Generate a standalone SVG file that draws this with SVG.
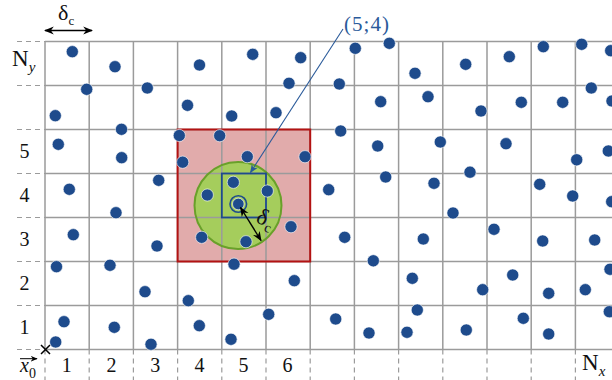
<svg xmlns="http://www.w3.org/2000/svg" width="612" height="380" viewBox="0 0 612 380">
<defs>
<style>
.g{stroke:#9b9b9b;stroke-width:1.5;fill:none}
.d{stroke:#9b9b9b;stroke-width:1.2;stroke-dasharray:5,4;fill:none}
.t{font-family:"Liberation Serif","DejaVu Serif",serif;font-size:20px;fill:#111}
.p circle{fill:#1e4b8c;stroke:#fff;stroke-width:0.6}
</style>
<marker id="ah" viewBox="0 0 10 10" refX="9" refY="5" markerWidth="7" markerHeight="7" orient="auto-start-reverse"><path d="M0,1 L10,5 L0,9 L3,5 Z" fill="#000"/></marker>
<marker id="ab" viewBox="0 0 10 10" refX="9" refY="5" markerWidth="8" markerHeight="8" orient="auto"><path d="M0,1 L10,5 L0,9 L3,5 Z" fill="#2a5a9a"/></marker>
</defs>
<rect width="612" height="380" fill="#fff"/>
<g id="neighbourhood-fill">
<rect x="177.6" y="129.5" width="132.6" height="132" fill="#e1abab"/>
<circle cx="238" cy="205.5" r="43.5" fill="#a5cd5c"/>
</g>
<g id="grid">
<path class="g" d="M45,41.5V349.5M89.2,41.5V349.5M133.4,41.5V349.5M177.6,41.5V349.5M221.8,41.5V349.5M266,41.5V349.5M310.2,41.5V349.5M354.4,41.5V349.5M398.6,41.5V349.5M442.8,41.5V349.5M487,41.5V349.5M531.2,41.5V349.5M575.4,41.5V349.5"/>
<path class="g" d="M45,41.5H612M45,85.5H612M45,129.5H612M45,173.5H612M45,217.5H612M45,261.5H612M45,305.5H612M45,349.5H612"/>
<path class="d" d="M17,41.5H45M17,85.5H45M17,129.5H45M17,173.5H45M17,217.5H45M17,261.5H45M17,305.5H45M17,349.5H45"/>
<path class="d" d="M45,349.5V380M89.2,349.5V380M133.4,349.5V380M177.6,349.5V380M221.8,349.5V380M266,349.5V380M310.2,349.5V380M354.4,349.5V380M398.6,349.5V380M442.8,349.5V380M487,349.5V380M531.2,349.5V380M575.4,349.5V380"/>
</g>
<g id="neighbourhood-outline">
<rect x="177.6" y="129.5" width="132.6" height="132" fill="none" stroke="#b31212" stroke-width="2"/>
<circle cx="238" cy="205.5" r="43.5" fill="none" stroke="#69a02a" stroke-width="2"/>
<rect id="cell-5-4" x="221.8" y="173.5" width="44.2" height="44" fill="none" stroke="#1e4b8c" stroke-width="1.8"/>
</g>
<g id="points" class="p">
<circle cx="72.3" cy="51.7" r="6.1"/><circle cx="115" cy="66.7" r="6.1"/><circle cx="86.7" cy="89.3" r="6.1"/><circle cx="147.3" cy="88" r="6.1"/><circle cx="199.5" cy="65" r="6.1"/><circle cx="252.7" cy="54.3" r="6.1"/><circle cx="300.7" cy="57.7" r="6.1"/><circle cx="355.3" cy="48.3" r="6.1"/><circle cx="389.3" cy="43.3" r="6.1"/><circle cx="415" cy="73.3" r="6.1"/><circle cx="465.7" cy="64.3" r="6.1"/><circle cx="509.3" cy="56.7" r="6.1"/><circle cx="543.3" cy="46.7" r="6.1"/><circle cx="581.7" cy="44.3" r="6.1"/><circle cx="610.7" cy="50.7" r="6.1"/><circle cx="289" cy="83.3" r="6.1"/><circle cx="339.3" cy="84" r="6.1"/>
<circle cx="55.3" cy="115.7" r="6.1"/><circle cx="121.5" cy="129.3" r="6.1"/><circle cx="187.5" cy="105.3" r="6.1"/><circle cx="231.7" cy="116" r="6.1"/><circle cx="276" cy="112.7" r="6.1"/><circle cx="380.7" cy="101.7" r="6.1"/><circle cx="428" cy="96.7" r="6.1"/><circle cx="481" cy="111" r="6.1"/><circle cx="521.3" cy="102.3" r="6.1"/><circle cx="562.7" cy="102.3" r="6.1"/><circle cx="591.3" cy="88" r="6.1"/><circle cx="612" cy="101" r="6.1"/>
<circle cx="58.3" cy="144.3" r="6.1"/><circle cx="121.7" cy="157.7" r="6.1"/><circle cx="179.3" cy="135.5" r="6.1"/><circle cx="219.7" cy="135.7" r="6.1"/><circle cx="182.7" cy="162.2" r="6.1"/><circle cx="247.3" cy="156.7" r="6.1"/><circle cx="305" cy="156.7" r="6.1"/><circle cx="340.7" cy="131" r="6.1"/><circle cx="377.7" cy="146" r="6.1"/><circle cx="440.3" cy="142" r="6.1"/><circle cx="506" cy="143.7" r="6.1"/><circle cx="576.7" cy="159.8" r="6.1"/><circle cx="608.3" cy="151" r="6.1"/><circle cx="470" cy="172.2" r="6.1"/>
<circle cx="158.7" cy="180.3" r="6.1"/><circle cx="69.3" cy="189.3" r="6.1"/><circle cx="116" cy="212.7" r="6.1"/><circle cx="233.3" cy="182.3" r="6.1"/><circle cx="207.3" cy="195" r="6.1"/><circle cx="267.3" cy="191" r="6.1"/><circle cx="328.7" cy="189.7" r="6.1"/><circle cx="385.7" cy="177" r="6.1"/><circle cx="434" cy="183.3" r="6.1"/><circle cx="453" cy="213" r="6.1"/><circle cx="539.7" cy="184.3" r="6.1"/><circle cx="572.7" cy="196" r="6.1"/><circle cx="611.7" cy="201.7" r="6.1"/>
<circle cx="73.3" cy="234.7" r="6.1"/><circle cx="157" cy="246" r="6.1"/><circle cx="201.7" cy="237.3" r="6.1"/><circle cx="246" cy="241.7" r="6.1"/><circle cx="291" cy="226.7" r="6.1"/><circle cx="344.7" cy="237.3" r="6.1"/><circle cx="423.3" cy="239" r="6.1"/><circle cx="494" cy="229.3" r="6.1"/><circle cx="542.7" cy="241" r="6.1"/><circle cx="594.7" cy="240" r="6.1"/><circle cx="373.3" cy="260.8" r="6.1"/>
<circle cx="56.5" cy="266.7" r="6.1"/><circle cx="110" cy="265.3" r="6.1"/><circle cx="234" cy="264.2" r="6.1"/><circle cx="294.3" cy="280.7" r="6.1"/><circle cx="145" cy="291.7" r="6.1"/><circle cx="188.3" cy="300.7" r="6.1"/><circle cx="412.3" cy="278.3" r="6.1"/><circle cx="482.7" cy="289.7" r="6.1"/><circle cx="512.7" cy="275" r="6.1"/><circle cx="548.7" cy="293.3" r="6.1"/><circle cx="585.3" cy="289.7" r="6.1"/><circle cx="610" cy="269.3" r="6.1"/>
<circle cx="64" cy="321.7" r="6.1"/><circle cx="114.3" cy="327.3" r="6.1"/><circle cx="199.3" cy="325.7" r="6.1"/><circle cx="268.7" cy="314.3" r="6.1"/><circle cx="55.7" cy="342" r="6.1"/><circle cx="151" cy="344.3" r="6.1"/><circle cx="231" cy="339.3" r="6.1"/><circle cx="335.7" cy="319" r="6.1"/><circle cx="369" cy="333" r="6.1"/><circle cx="407" cy="332.3" r="6.1"/><circle cx="417.3" cy="310" r="6.1"/><circle cx="466.3" cy="330" r="6.1"/><circle cx="523.3" cy="318.3" r="6.1"/><circle cx="548.7" cy="334" r="6.1"/><circle cx="609.3" cy="311.7" r="6.1"/>
<circle cx="238.3" cy="204" r="5.8"/>
</g>
<g id="query-point">
<circle cx="238.3" cy="204" r="8.3" fill="none" stroke="#1e4b8c" stroke-width="1.6"/>
</g>
<g id="connectors">
<line x1="240.5" y1="207.5" x2="261" y2="240.5" stroke="#000" stroke-width="1.4" marker-start="url(#ah)" marker-end="url(#ah)"/>
<line x1="45" y1="30.5" x2="92" y2="30.5" stroke="#000" stroke-width="1.4" marker-start="url(#ah)" marker-end="url(#ah)"/>
<line x1="343" y1="29" x2="250.5" y2="172.5" stroke="#2a5a9a" stroke-width="1.1" marker-end="url(#ab)"/>
<line x1="20" y1="358.7" x2="37" y2="358.7" stroke="#000" stroke-width="1" marker-end="url(#ah)"/>
<path d="M41,345L50,354M50,345L41,354" stroke="#000" stroke-width="1.5"/>
</g>
<g id="labels">
<text class="t" x="344" y="31" textLength="45" style="fill:#2a5a9a;font-size:21px">(5;4)</text>
<text class="t" x="58" y="20" style="font-size:22px">δ<tspan dy="5" style="font-size:13px">c</tspan></text>
<text class="t" transform="translate(255,222) rotate(22)" style="font-size:23px">δ<tspan dy="5" style="font-size:14px">c</tspan></text>
<text class="t" x="12" y="66" style="font-size:23px">N<tspan dy="6" style="font-size:15px;font-style:italic">y</tspan></text>
<text class="t" x="582" y="369.5" style="font-size:23px">N<tspan dy="6" style="font-size:15px;font-style:italic">x</tspan></text>
<text class="t" x="20" y="371.5" style="font-size:20px;font-style:italic">x<tspan dy="6" style="font-size:14px;font-style:normal">0</tspan></text>
<g text-anchor="middle">
<text class="t" x="24.5" y="334">1</text><text class="t" x="24.5" y="290">2</text><text class="t" x="24.5" y="246">3</text><text class="t" x="24.5" y="202">4</text><text class="t" x="24.5" y="157.5">5</text>
<text class="t" x="66.8" y="372">1</text><text class="t" x="111.5" y="372">2</text><text class="t" x="155.2" y="372">3</text><text class="t" x="199.4" y="372">4</text><text class="t" x="243.6" y="372">5</text><text class="t" x="287.5" y="372">6</text>
</g>
</g>
</svg>
